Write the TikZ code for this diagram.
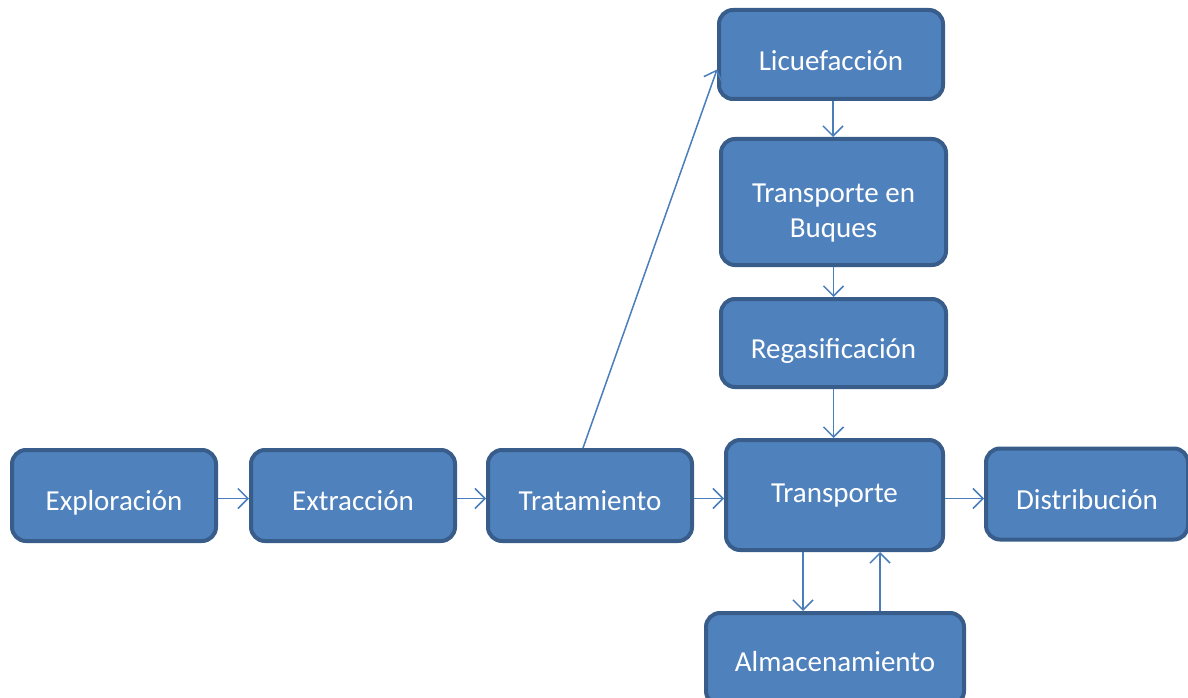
\documentclass[tikz,border=0pt]{standalone}
\usepackage{fontspec}
\setmainfont{Carlito}
\usepackage{xcolor}
\usepackage{tikz}
\usetikzlibrary{arrows.meta,positioning,calc}

\definecolor{cajaazul}{HTML}{4F81BD}
\definecolor{bordeazul}{HTML}{385D8A}
\definecolor{flechaazul}{HTML}{4A7EBB}

% texto de la caja, bajado unos puntos
\newcommand{\bajo}[2]{\raisebox{-#1}[\height][\depth]{\begin{tabular}{@{}c@{}}#2\end{tabular}}}

\tikzset{
	etapa/.style={draw=bordeazul,fill=cajaazul,line width=4pt,rounded corners=14pt,
		text=white,font=\fontsize{29}{35}\selectfont,inner sep=0pt},
	flecha/.style={draw=flechaazul,line width=1.5pt,-{Straight Barb[length=10pt,width=20pt,line width=1.5pt]}}
}

\begin{document}
\begin{tikzpicture}[x=1pt,y=-1pt]
		\useasboundingbox (0,0) rectangle (1188,698);
		% cadena principal
		\node[etapa,minimum width=204,minimum height=91] (explo) at (114,495.5) {\bajo{8pt}{Exploración}};
		\node[etapa,minimum width=204,minimum height=91] (extra) at (353,495.5) {\bajo{8pt}{Extracción}};
		\node[etapa,minimum width=204,minimum height=91] (trata) at (590,495.5) {\bajo{8pt}{Tratamiento}};
		\node[etapa,minimum width=217,minimum height=110] (transp) at (834.5,495) {\bajo{0pt}{Transporte}};
		\node[etapa,minimum width=202,minimum height=91] (distri) at (1087,494) {\bajo{8pt}{Distribución}};
		% rama del GNL
		\node[etapa,minimum width=224,minimum height=89] (licue) at (831,54.5) {\bajo{9pt}{Licuefacción}};
		\node[etapa,minimum width=225,minimum height=126] (buques) at (833.5,202) {\bajo{11pt}{Transporte en\\Buques}};
		\node[etapa,minimum width=225,minimum height=88] (regas) at (833.5,343) {\bajo{8pt}{Regasificación}};
		\node[etapa,minimum width=258,minimum height=92] (almac) at (835,659) {\bajo{5pt}{Almacenamiento}};
		
		\draw[flecha] ([yshift=-3]explo.east) -- ([yshift=-3]extra.west);
		\draw[flecha] ([yshift=-3]extra.east) -- ([yshift=-3]trata.west);
		\draw[flecha] ([yshift=-3]trata.east) -- ([yshift=-3.5]transp.west);
		\draw[flecha] ([yshift=-3.5]transp.east) -- ([yshift=-3.5]transp.east -| distri.west);
		\draw[flecha] ([xshift=-7]trata.north) -- ([yshift=-15]licue.west);
		\draw[flecha] ([xshift=2]licue.south) -- ([xshift=2]licue.south |- buques.north);
		\draw[flecha] (buques.south) -- (buques.south |- regas.north);
		\draw[flecha] (regas.south) -- (regas.south |- transp.north);
		\draw[flecha] ([xshift=-31.5]transp.south) -- ([xshift=-31.5]transp.south |- almac.north);
		\draw[flecha] ([xshift=45.5]transp.south |- almac.north) -- ([xshift=45.5]transp.south);
	\end{tikzpicture}
\end{document}
